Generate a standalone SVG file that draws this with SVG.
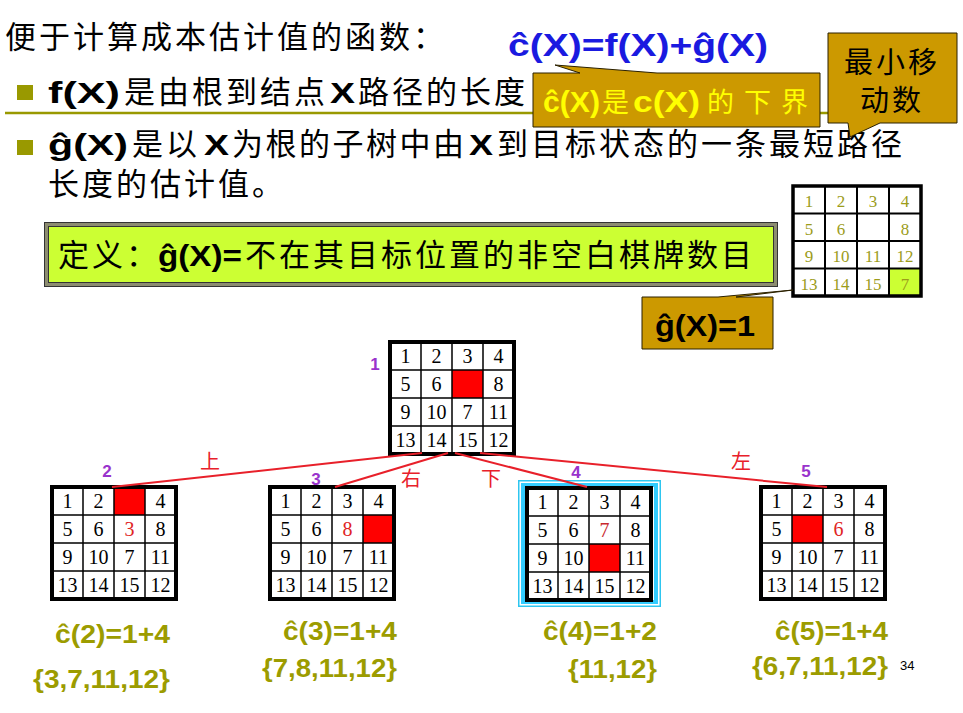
<svg xmlns="http://www.w3.org/2000/svg" xmlns:xlink="http://www.w3.org/1999/xlink" width="963" height="713" viewBox="0 0 963 713">
<style>
.cjk{font-family:"Noto Sans CJK SC","Noto Sans",sans-serif;font-size:31px;fill:#000;letter-spacing:3px}
.lat{font-family:"Liberation Sans",Arial,sans-serif;font-weight:bold;fill:#000;letter-spacing:0}
.num{font-family:"Liberation Serif","Times New Roman",serif;font-size:20px;fill:#000;text-anchor:middle}
.gnum{font-family:"Liberation Serif","Times New Roman",serif;font-size:17px;fill:#9c9c1a;text-anchor:middle}
.rnum{fill:#e02424}
.lbl{font-family:"Liberation Sans",Arial,sans-serif;font-weight:bold;font-size:17px;fill:#9933cc;text-anchor:middle}
.dir{font-family:"Noto Sans CJK SC",sans-serif;font-size:20px;fill:#e8202a;text-anchor:middle}
.cost{font-family:"Liberation Sans",Arial,sans-serif;font-weight:bold;font-size:26px;fill:#9c9c00}
.callout{fill:#CC9900;stroke:#2a2000;stroke-width:1}
.bullet{fill:#999900}
.edge{stroke:#e8202a;stroke-width:2;fill:none}
.cell-white{fill:#fff}
.red{fill:#ff0000}
</style>
<defs>
<g id="grid4">
<path d="M31 0V112M62 0V112M93 0V112M0 28H124M0 56H124M0 84H124" stroke="#000" stroke-width="1.5" fill="none"/>
<rect x="0" y="0" width="124" height="112" fill="none" stroke="#000" stroke-width="4"/>
</g>
</defs>

<g id="header">
<text class="cjk" x="5" y="48">便于计算成本估计值的函数：</text>
<rect class="bullet" x="17" y="85" width="16" height="15"/>
<text y="103"><tspan class="lat" x="48" font-size="30" textLength="72" lengthAdjust="spacingAndGlyphs">f(X)</tspan><tspan class="cjk" x="124">是由根到结点</tspan><tspan class="lat" x="330" font-size="30" textLength="25" lengthAdjust="spacingAndGlyphs">X</tspan><tspan class="cjk" x="358">路径的长度</tspan></text>
<line x1="5" y1="113" x2="900" y2="113" stroke="#999900" stroke-width="2.5"/>
<rect class="bullet" x="17" y="140" width="16" height="15"/>
<text y="155"><tspan class="lat" x="48" font-size="30" textLength="80" lengthAdjust="spacingAndGlyphs">ĝ(X)</tspan><tspan class="cjk" x="132">是以</tspan><tspan class="lat" x="204" font-size="30" textLength="25" lengthAdjust="spacingAndGlyphs">X</tspan><tspan class="cjk" x="232" style="letter-spacing:2.5px">为根的子树中由</tspan><tspan class="lat" x="469" font-size="30" textLength="24" lengthAdjust="spacingAndGlyphs">X</tspan><tspan class="cjk" x="497">到目标状态的一条最短路径</tspan></text>
<text class="cjk" x="48" y="195">长度的估计值。</text>
<text class="lat" x="508" y="56" font-size="32" style="fill:#1a1ae0" textLength="260" lengthAdjust="spacingAndGlyphs">ĉ(X)=f(X)+ĝ(X)</text>
</g>

<g id="callout-lowerbound">
<path class="callout" d="M533 73H580L555 65L657 73H820V127H533Z"/>
<text y="112"><tspan class="lat" style="fill:#ffff00" x="543" font-size="30" textLength="57" lengthAdjust="spacingAndGlyphs">ĉ(X)</tspan><tspan class="cjk" style="fill:#ffff00;font-size:27px;letter-spacing:0" x="602">是</tspan><tspan class="lat" style="fill:#ffff00" x="633" font-size="30" textLength="67" lengthAdjust="spacingAndGlyphs">c(X)</tspan><tspan class="cjk" style="fill:#ffff00;font-size:27px;letter-spacing:10px" x="707">的下界</tspan></text>
</g>

<g id="callout-minmoves">
<path class="callout" d="M828 33H957V123H880L850 137L848 123H828Z"/>
<text class="cjk" x="892" y="73" text-anchor="middle" style="font-size:29px;letter-spacing:3px">最小移</text>
<text class="cjk" x="892" y="111" text-anchor="middle" style="font-size:29px;letter-spacing:3px">动数</text>
</g>

<g id="definition">
<rect x="46.5" y="224.5" width="729" height="60" fill="#CCFF33" stroke="#8c8c70" stroke-width="5"/>
<rect x="44.5" y="222.5" width="733" height="64" fill="none" stroke="#333" stroke-width="1"/>
<rect x="48.5" y="226.5" width="725" height="56" fill="none" stroke="#333" stroke-width="1"/>
<text y="266"><tspan class="cjk" x="58">定义：</tspan><tspan class="lat" x="158" font-size="30" textLength="84" lengthAdjust="spacingAndGlyphs">ĝ(X)=</tspan><tspan class="cjk" x="245">不在其目标位置的非空白棋牌数目</tspan></text>
</g>

<g id="goal-board">
<rect x="793" y="186" width="128" height="110" fill="#fff"/>
<rect x="889" y="268.5" width="32" height="27.5" fill="#CCFF33"/>
<path d="M825 186V296M857 186V296M889 186V296M793 213.5H921M793 241H921M793 268.5H921" stroke="#000" stroke-width="2" fill="none"/>
<rect x="793" y="186" width="128" height="110" fill="none" stroke="#000" stroke-width="3.5"/>
<text class="gnum" x="809" y="207">1</text><text class="gnum" x="841" y="207">2</text><text class="gnum" x="873" y="207">3</text><text class="gnum" x="905" y="207">4</text>
<text class="gnum" x="809" y="234.5">5</text><text class="gnum" x="841" y="234.5">6</text><text class="gnum" x="905" y="234.5">8</text>
<text class="gnum" x="809" y="262">9</text><text class="gnum" x="841" y="262">10</text><text class="gnum" x="873" y="262">11</text><text class="gnum" x="905" y="262">12</text>
<text class="gnum" x="809" y="289.5">13</text><text class="gnum" x="841" y="289.5">14</text><text class="gnum" x="873" y="289.5">15</text><text class="gnum" x="905" y="289.5">7</text>
</g>

<g id="callout-g1">
<path class="callout" d="M642 297H718L793 290L736 297H773V349H642Z"/>
<text class="lat" x="655" y="336" font-size="30" textLength="100" lengthAdjust="spacingAndGlyphs">ĝ(X)=1</text>
</g>

<g id="node1">
<rect x="390" y="342" width="124" height="112" class="cell-white"/>
<rect x="452" y="370" width="31" height="28" class="red"/>
<use xlink:href="#grid4" x="390" y="342"/>
<text class="num" x="405.5" y="363">1</text><text class="num" x="436.5" y="363">2</text><text class="num" x="467.5" y="363">3</text><text class="num" x="498.5" y="363">4</text>
<text class="num" x="405.5" y="391">5</text><text class="num" x="436.5" y="391">6</text><text class="num" x="498.5" y="391">8</text>
<text class="num" x="405.5" y="419">9</text><text class="num" x="436.5" y="419">10</text><text class="num" x="467.5" y="419">7</text><text class="num" x="498.5" y="419">11</text>
<text class="num" x="405.5" y="447">13</text><text class="num" x="436.5" y="447">14</text><text class="num" x="467.5" y="447">15</text><text class="num" x="498.5" y="447">12</text>
<text class="lbl" x="375" y="370">1</text>
</g>

<g id="node2">
<rect x="52" y="487" width="124" height="112" class="cell-white"/>
<rect x="114" y="487" width="31" height="28" class="red"/>
<use xlink:href="#grid4" x="52" y="487"/>
<text class="num" x="67.5" y="508">1</text><text class="num" x="98.5" y="508">2</text><text class="num" x="160.5" y="508">4</text>
<text class="num" x="67.5" y="536">5</text><text class="num" x="98.5" y="536">6</text><text class="num rnum" x="129.5" y="536">3</text><text class="num" x="160.5" y="536">8</text>
<text class="num" x="67.5" y="564">9</text><text class="num" x="98.5" y="564">10</text><text class="num" x="129.5" y="564">7</text><text class="num" x="160.5" y="564">11</text>
<text class="num" x="67.5" y="592">13</text><text class="num" x="98.5" y="592">14</text><text class="num" x="129.5" y="592">15</text><text class="num" x="160.5" y="592">12</text>
<text class="lbl" x="107" y="477">2</text>
<text class="cost" x="55" y="643" textLength="115" lengthAdjust="spacingAndGlyphs">ĉ(2)=1+4</text>
<text class="cost" x="33" y="688" textLength="137" lengthAdjust="spacingAndGlyphs">{3,7,11,12}</text>
</g>

<g id="node3">
<rect x="270" y="487" width="124" height="112" class="cell-white"/>
<rect x="363" y="515" width="31" height="28" class="red"/>
<use xlink:href="#grid4" x="270" y="487"/>
<text class="num" x="285.5" y="508">1</text><text class="num" x="316.5" y="508">2</text><text class="num" x="347.5" y="508">3</text><text class="num" x="378.5" y="508">4</text>
<text class="num" x="285.5" y="536">5</text><text class="num" x="316.5" y="536">6</text><text class="num rnum" x="347.5" y="536">8</text>
<text class="num" x="285.5" y="564">9</text><text class="num" x="316.5" y="564">10</text><text class="num" x="347.5" y="564">7</text><text class="num" x="378.5" y="564">11</text>
<text class="num" x="285.5" y="592">13</text><text class="num" x="316.5" y="592">14</text><text class="num" x="347.5" y="592">15</text><text class="num" x="378.5" y="592">12</text>
<text class="lbl" x="316" y="485">3</text>
<text class="cost" x="283" y="640" textLength="114" lengthAdjust="spacingAndGlyphs">ĉ(3)=1+4</text>
<text class="cost" x="262" y="677" textLength="135" lengthAdjust="spacingAndGlyphs">{7,8,11,12}</text>
</g>

<g id="node4">
<rect x="518.75" y="480.75" width="141.5" height="125.5" fill="#fff" stroke="#2ec6f0" stroke-width="1.5"/>
<rect x="523" y="485" width="133" height="117" fill="none" stroke="#33ccff" stroke-width="4"/>
<rect x="527" y="488" width="124" height="112" class="cell-white"/>
<rect x="589" y="544" width="31" height="28" class="red"/>
<use xlink:href="#grid4" x="527" y="488"/>
<text class="num" x="542.5" y="509">1</text><text class="num" x="573.5" y="509">2</text><text class="num" x="604.5" y="509">3</text><text class="num" x="635.5" y="509">4</text>
<text class="num" x="542.5" y="537">5</text><text class="num" x="573.5" y="537">6</text><text class="num rnum" x="604.5" y="537" style="fill:#c8282e">7</text><text class="num" x="635.5" y="537">8</text>
<text class="num" x="542.5" y="565">9</text><text class="num" x="573.5" y="565">10</text><text class="num" x="635.5" y="565">11</text>
<text class="num" x="542.5" y="593">13</text><text class="num" x="573.5" y="593">14</text><text class="num" x="604.5" y="593">15</text><text class="num" x="635.5" y="593">12</text>
<text class="lbl" x="576" y="478">4</text>
<text class="cost" x="543" y="640" textLength="114" lengthAdjust="spacingAndGlyphs">ĉ(4)=1+2</text>
<text class="cost" x="568" y="678" textLength="89" lengthAdjust="spacingAndGlyphs">{11,12}</text>
</g>

<g id="node5">
<rect x="761" y="487" width="124" height="112" class="cell-white"/>
<rect x="792" y="515" width="31" height="28" class="red"/>
<use xlink:href="#grid4" x="761" y="487"/>
<text class="num" x="776.5" y="508">1</text><text class="num" x="807.5" y="508">2</text><text class="num" x="838.5" y="508">3</text><text class="num" x="869.5" y="508">4</text>
<text class="num" x="776.5" y="536">5</text><text class="num rnum" x="838.5" y="536">6</text><text class="num" x="869.5" y="536">8</text>
<text class="num" x="776.5" y="564">9</text><text class="num" x="807.5" y="564">10</text><text class="num" x="838.5" y="564">7</text><text class="num" x="869.5" y="564">11</text>
<text class="num" x="776.5" y="592">13</text><text class="num" x="807.5" y="592">14</text><text class="num" x="838.5" y="592">15</text><text class="num" x="869.5" y="592">12</text>
<text class="lbl" x="806" y="477">5</text>
<text class="cost" x="775" y="640" textLength="113" lengthAdjust="spacingAndGlyphs">ĉ(5)=1+4</text>
<text class="cost" x="752" y="675" textLength="136" lengthAdjust="spacingAndGlyphs">{6,7,11,12}</text>
</g>

<g id="connectors">
<line class="edge" x1="422" y1="453" x2="112" y2="487"/>
<line class="edge" x1="448" y1="453" x2="335" y2="487"/>
<line class="edge" x1="455" y1="453" x2="587" y2="487"/>
<line class="edge" x1="480" y1="453" x2="827" y2="487"/>
<text class="dir" x="210" y="469">上</text>
<text class="dir" x="411" y="486">右</text>
<text class="dir" x="491" y="486">下</text>
<text class="dir" x="741" y="469">左</text>
</g>

<text x="900" y="670" font-family="Liberation Sans, Arial, sans-serif" font-size="13" fill="#000">34</text>
</svg>
